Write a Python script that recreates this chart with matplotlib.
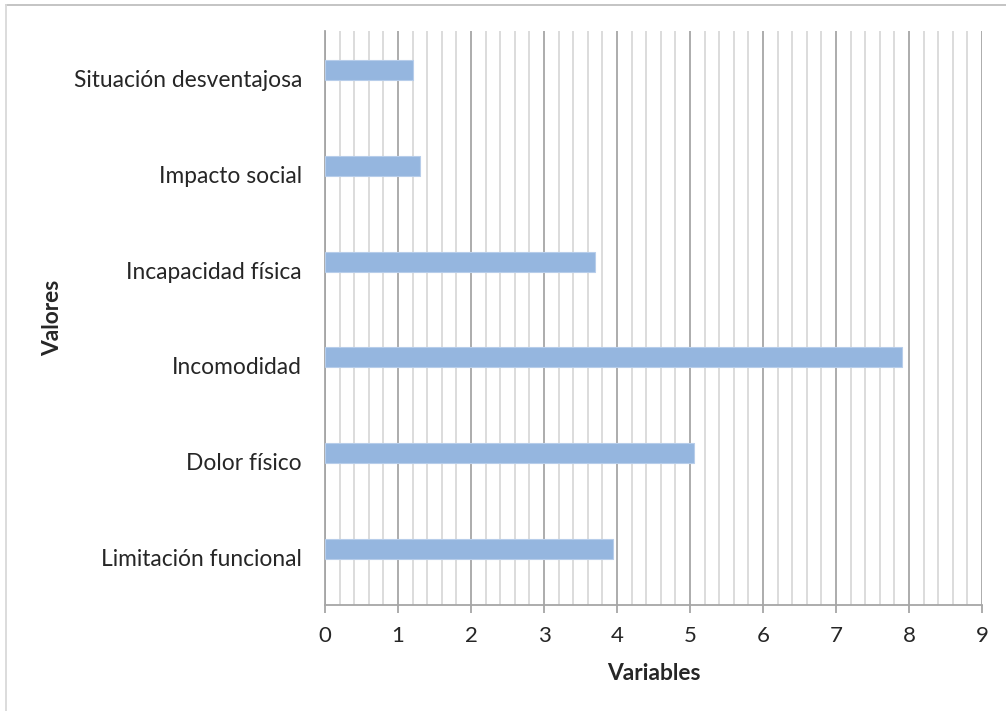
import numpy as np
import matplotlib.pyplot as plt
from matplotlib.lines import Line2D
from matplotlib.ticker import MultipleLocator

categories = ["Limitación funcional", "Dolor físico", "Incomodidad",
              "Incapacidad física", "Impacto social", "Situación desventajosa"]
values = [3.95, 5.06, 7.91, 3.7, 1.3, 1.2]
x_ticks = list(range(0, 10))

plt.rcParams["font.family"] = ["Lato", "DejaVu Sans"]
text_color = "#262626"

W, H = 1006, 711
fig = plt.figure(figsize=(W / 100, H / 100), dpi=100)
ax = fig.add_axes([325 / W, 1 - 605 / H, (982 - 325) / W, (605 - 31) / H])

# chart area frame: only top and left edges show inside the picture
fig.lines.append(Line2D([6 / W, 1], [1 - 5 / H, 1 - 5 / H], transform=fig.transFigure,
                        color="#bfbfbf", linewidth=1.3))
fig.lines.append(Line2D([6 / W, 6 / W], [0, 1 - 5 / H], transform=fig.transFigure,
                        color="#d9d9d9", linewidth=1.3))

y = np.arange(len(categories))
# bars sit a little above the category centre (clustered-bar slot)
bar_offset = 0.09
ax.barh(y + bar_offset, values, height=0.21, color="#95b6df", edgecolor="#b7cdea",
        linewidth=0.8, zorder=3)

ax.set_xlim(0, 9)
ax.set_ylim(-0.5, len(categories) - 0.5)
ax.set_xticks(x_ticks)
ax.xaxis.set_minor_locator(MultipleLocator(0.2))
ax.grid(axis="x", which="minor", color="#d9d9d9", linewidth=1.3, zorder=0)
ax.grid(axis="x", which="major", color="#a6a6a6", linewidth=1.3, zorder=1)

ax.set_yticks(y)
ax.set_yticklabels(categories, fontsize=16.4, color=text_color)
ax.tick_params(axis="y", length=0, pad=16.5)
ax.tick_params(axis="x", which="major", length=6, width=1.3, color="#a6a6a6",
               labelsize=16, labelcolor=text_color, pad=9)
ax.tick_params(axis="x", which="minor", length=0)

for side in ["top", "right"]:
    ax.spines[side].set_visible(False)
for side in ["left", "bottom"]:
    ax.spines[side].set_color("#a6a6a6")
    ax.spines[side].set_linewidth(1.3)

ax.set_xlabel("Variables", fontsize=16.4, fontweight="bold", color=text_color,
              labelpad=12)
fig.text(53 / W, 1 - 318 / H, "Valores", rotation=90, fontsize=16.4,
         fontweight="bold", color=text_color, ha="center", va="center")

fig.savefig("out.png", dpi=100)
